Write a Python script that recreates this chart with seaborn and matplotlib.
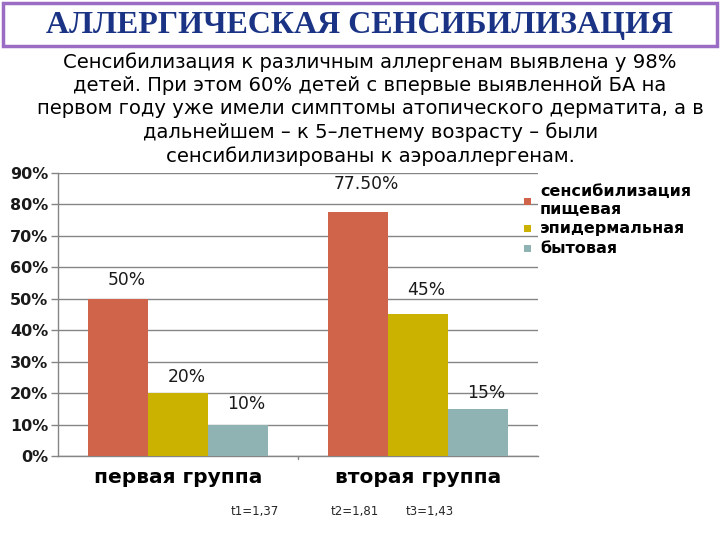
import pandas as pd
import numpy as np
import matplotlib
matplotlib.use("Agg")
import matplotlib.pyplot as plt
import seaborn as sns
from matplotlib.patches import Rectangle

groups = ["первая группа", "вторая группа"]
series = ["сенсибилизация\nпищевая", "эпидермальная", "бытовая"]
food = [0.50, 0.775]
epid = [0.20, 0.45]
home = [0.10, 0.15]
labels = [["50%", "77.50%"], ["20%", "45%"], ["10%", "15%"]]
colors = ["#D0644B", "#CBB100", "#8FB2B2"]
t_texts = ["t1=1,37", "t2=1,81", "t3=1,43"]

rows = []
for s, vals in zip(series, [food, epid, home]):
    for g, v in zip(groups, vals):
        rows.append({"group": g, "series": s, "value": v})
df = pd.DataFrame(rows)

sns.set_style("white")
plt.rcParams['font.family'] = ['DejaVu Sans']

fig = plt.figure(figsize=(7.2, 5.4), dpi=100)

# title box
fig.patches.append(Rectangle((0.004, 0.914), 0.992, 0.08, transform=fig.transFigure,
                             fill=False, edgecolor="#9B6CC3", linewidth=2.5))
fig.text(0.5, 0.953, "АЛЛЕРГИЧЕСКАЯ СЕНСИБИЛИЗАЦИЯ", ha="center", va="center",
         family="Liberation Serif", fontweight="bold", fontsize=23, color="#1A3385")

sub = ("Сенсибилизация к различным аллергенам выявлена у 98%\n"
       "детей. При этом 60% детей с впервые выявленной БА на\n"
       "первом году уже имели симптомы атопического дерматита, а в\n"
       "дальнейшем – к 5–летнему возрасту – были\n"
       "сенсибилизированы к аэроаллергенам.")
fig.text(0.514, 0.903, sub, ha="center", va="top", fontsize=14.1, linespacing=1.27,
         color="black")

ax = fig.add_axes([0.0806, 0.1556, 0.6664, 0.524])
sns.barplot(data=df, x="group", y="value", hue="series", palette=colors,
            width=0.75, saturation=1, linewidth=0, ax=ax, zorder=3)

ax.set_ylim(0, 0.9)
ax.set_xlim(-0.5, 1.5)
ax.set_yticks(np.arange(0, 0.91, 0.1))
ax.set_yticklabels([f"{int(round(v*100))}%" for v in np.arange(0, 0.91, 0.1)],
                   fontsize=11.5, fontweight="bold", color="#1a1a1a")
ax.yaxis.grid(True, color="#858585", linewidth=1, zorder=0)
ax.set_axisbelow(True)
ax.set_xlabel("")
ax.set_ylabel("")
ax.set_xticks([0, 1])
ax.set_xticklabels(groups, fontsize=14.5, fontweight="bold", color="black")
ax.tick_params(axis="x", length=0, pad=9)
ax.tick_params(axis="y", length=5, width=1, color="#858585", left=True, pad=2)
for sp in ["top", "right"]:
    ax.spines[sp].set_visible(False)
for sp in ["left", "bottom"]:
    ax.spines[sp].set_color("#858585")
    ax.spines[sp].set_linewidth(1)
ax.axvline(0.5, ymin=-0.012, ymax=0, color="#858585", clip_on=False, linewidth=1)

for cont, labs in zip(ax.containers, labels):
    ax.bar_label(cont, labels=labs, padding=0, fontsize=12.3, color="#1a1a1a")
for txt, dy in zip(ax.texts, [7, 14, 5, 11.5, 8, 5]):
    txt.xyann = (6, dy)

leg = ax.legend(loc="upper left", bbox_to_anchor=(0.948, 1.0), frameon=False,
                prop={"size": 11.5, "weight": "bold"}, handlelength=0.5,
                handleheight=0.5, handletextpad=0.5, labelspacing=0.3,
                borderaxespad=0.3)
for h in leg.legend_handles:
    h.set_width(5)
    h.set_height(5)
for t in leg.get_texts():
    t.set_color("black")

for x, t in zip([0.354, 0.493, 0.597], t_texts):
    fig.text(x, 0.052, t, ha="center", va="center", fontsize=8.5)

fig.savefig("out.png", dpi=100)
